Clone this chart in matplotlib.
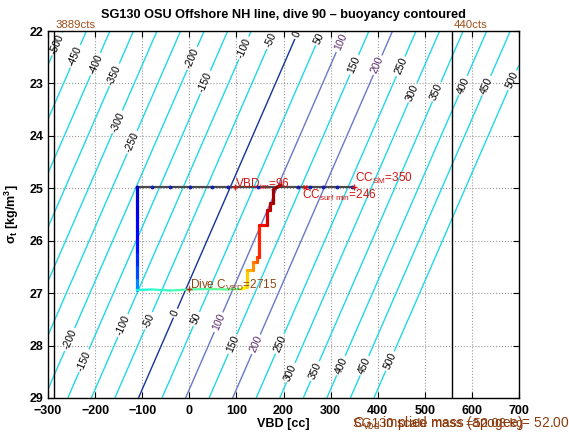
import numpy as np
import matplotlib
matplotlib.use('Agg')
import matplotlib.pyplot as plt
from matplotlib.collections import LineCollection

plt.rcParams['font.family'] = ['Liberation Sans', 'DejaVu Sans']
plt.rcParams['mathtext.fontset'] = 'custom'
plt.rcParams['mathtext.rm'] = 'Liberation Sans'
plt.rcParams['mathtext.it'] = 'Liberation Sans:italic'
plt.rcParams['mathtext.bf'] = 'Liberation Sans:bold'

# ---------------- data ----------------
title = 'SG130 OSU Offshore NH line, dive 90 \u2013 buoyancy contoured'
vbd_lim = [-300, 700]
sigma_lim = [22, 29]
x_ticks = [-300, -200, -100, 0, 100, 200, 300, 400, 500, 600, 700]
y_ticks = [22, 23, 24, 25, 26, 27, 28, 29]
contour_levels = list(range(-500, 501, 50))
highlight_levels = {0: '#15339c', 100: '#6a78c8', 200: '#6a78c8'}

# buoyancy field parameters (linear in VBD and sigma_t)
buoy_per_cc = 1.0
buoy_per_sigma = 48.5
zero_buoy_vbd_at_29 = -108.0

c_vbd = 2715
vbd_cnv = -0.245
vbd_limit_counts = [3889, 440]
vbd_im = 96
cc_sm = 350
cc_surf_min = 246
scale_mass = 52.08
implied_mass = 52.003

# surface segment
surface_sigma = 24.98
surface_vbd = [-112, -80, -41, 2, 48, 82, 146, 231, 256, 284, 314, 345]

# descent (colour value = fraction of dive time, jet colormap)
descent_vbd = [-112, -112, -112, -112, -112, -112, -112, -112, -112]
descent_sigma = [24.98, 25.25, 25.5, 25.75, 26.0, 26.25, 26.5, 26.75, 26.94]
descent_t = [0.05, 0.08, 0.10, 0.12, 0.13, 0.15, 0.18, 0.22, 0.30]

# apogee
apogee_vbd = [-112, -80, -40, 0, 40, 80, 111]
apogee_sigma = [26.94, 26.93, 26.95, 26.93, 26.92, 26.93, 26.92]
apogee_t = [0.37, 0.40, 0.42, 0.44, 0.46, 0.47, 0.48]

# climb
climb_vbd = [111, 122, 122, 136, 136, 143, 143, 149, 149, 164, 164, 171, 171, 178, 178, 186, 195]
climb_sigma = [26.92, 26.89, 26.56, 26.56, 26.40, 26.40, 26.31, 26.31, 25.70, 25.70,
               25.42, 25.42, 25.28, 25.28, 25.03, 24.98, 24.94]
climb_t = [0.64, 0.67, 0.71, 0.74, 0.77, 0.80, 0.83, 0.86, 0.88, 0.91,
           0.93, 0.94, 0.95, 0.96, 0.97, 0.98, 0.99]

# contour label positions (vbd, sigma)
label_pos = [(-285, 22.23), (-243, 22.48), (-200, 22.63), (-158, 22.84), (-151, 23.74),
             (-122, 24.12), (6, 22.52), (33, 22.97), (114, 22.32), (171, 22.17),
             (232, 22.08), (273, 22.13), (320, 22.21), (352, 22.65), (399, 22.65),
             (443, 22.65), (475, 23.18), (526, 23.16), (579, 23.03), (628, 23.03),
             (686, 22.94),
             (-260, 27.86), (-226, 28.28), (-143, 27.61), (-88, 27.52), (-35, 27.36),
             (12, 27.48), (61, 27.55), (86, 27.95), (135, 27.95), (188, 27.95),
             (212, 28.5), (263, 28.47), (320, 28.37), (369, 28.37), (422, 28.28)]

# ---------------- plot ----------------
fig = plt.figure(figsize=(5.69, 4.42), dpi=100)
ax = fig.add_axes([48/569, 44/442, 471/569, 367/442])
ax.set_xlim(vbd_lim)
ax.set_ylim(sigma_lim[1], sigma_lim[0])

vv = np.linspace(vbd_lim[0], vbd_lim[1], 401)
ss = np.linspace(sigma_lim[0], sigma_lim[1], 281)
V, S = np.meshgrid(vv, ss)
B = buoy_per_cc * (V - zero_buoy_vbd_at_29) + buoy_per_sigma * (S - 29.0)

cols = [highlight_levels.get(l, '#22d8e4') for l in contour_levels]
cs = ax.contour(V, S, B, levels=contour_levels, colors=cols, linewidths=1.0)
ax.clabel(cs, manual=label_pos, inline=True, fontsize=7.5, fmt='%d', inline_spacing=2)

# orientation of the contour lines on screen
p1 = ax.transData.transform((0.0, 29.0))
p2 = ax.transData.transform((7.0 * buoy_per_sigma / buoy_per_cc, 22.0))
ang = np.degrees(np.arctan2(p2[1] - p1[1], p2[0] - p1[0]))
for t in cs.labelTexts:
    t.set_rotation(ang)
    t.set_color('#5a2a6a' if t.get_text() in ('100', '200') else 'black')

ax.grid(True, color='0.6', linestyle=':', linewidth=0.8)
ax.set_axisbelow(True)

# VBD count limits
for cnt in vbd_limit_counts:
    xv = (cnt - c_vbd) * vbd_cnv
    ax.axvline(xv, color='black', lw=1.0)
    ax.text(xv + 3, 21.88, f'{cnt}cts', color='#a0501a', fontsize=8.2, ha='left',
            va='center', clip_on=False)

# surface line
ax.plot([surface_vbd[0], surface_vbd[-1]], [surface_sigma, surface_sigma], color='#4a4a4a', lw=1.6)
ax.plot(surface_vbd, [surface_sigma] * len(surface_vbd), linestyle='none', marker='.',
        color='#1020b0', markersize=3.5)

cmap = plt.get_cmap('jet')

def colored(xs, ys, ts, lw):
    pts = np.column_stack([xs, ys])
    segs = np.stack([pts[:-1], pts[1:]], axis=1)
    tv = 0.5 * (np.asarray(ts[:-1]) + np.asarray(ts[1:]))
    lc = LineCollection(segs, colors=cmap(tv), linewidths=lw, capstyle='round', joinstyle='round')
    ax.add_collection(lc)

colored(descent_vbd, descent_sigma, descent_t, 2.3)
colored(apogee_vbd, apogee_sigma, apogee_t, 1.6)
colored(climb_vbd, climb_sigma, climb_t, 2.3)

red = '#d41414'
ax.plot([vbd_im], [surface_sigma], marker='+', color=red, markersize=5, mew=1)
ax.text(vbd_im + 2, 24.93, 'VBD$_{\\mathrm{im}}$=%d' % vbd_im, color=red, fontsize=8.5,
        ha='left', va='center')
ax.plot([cc_surf_min], [surface_sigma], marker='x', color=red, markersize=3.5, mew=1)
ax.text(cc_surf_min - 6, 25.13, 'CC$_{\\mathrm{surf\\ min}}$=%d' % cc_surf_min, color=red,
        fontsize=8.5, ha='left', va='center')
ax.plot([cc_sm], [surface_sigma], marker='+', color=red, markersize=5, mew=1)
ax.text(cc_sm + 2, 24.82, 'CC$_{\\mathrm{SM}}$=%d' % cc_sm, color=red, fontsize=8.5,
        ha='left', va='center')

brown = '#8c4614'
ax.plot([0], [26.93], marker='+', color='#b02a10', markersize=5, mew=1)
ax.text(1, 26.85, 'Dive C$_{\\mathrm{VBD}}$=%d' % c_vbd, color=brown, fontsize=8.5,
        ha='left', va='center')

ax.set_xticks(x_ticks)
ax.set_yticks(y_ticks)
ax.tick_params(direction='in', length=4, top=True, right=True, labelsize=9)
ax.tick_params(axis='x', pad=5)
ax.tick_params(axis='y', pad=3)
for lab in ax.get_xticklabels() + ax.get_yticklabels():
    lab.set_fontweight('bold')
for sp in ax.spines.values():
    sp.set_linewidth(1.0)

ax.set_xlabel('VBD [cc]', fontsize=9, fontweight='bold', labelpad=1)
ax.set_ylabel('$\\mathbf{\\sigma_t}$ [kg/m$^{\\mathbf{3}}$]', fontsize=9, fontweight='bold', labelpad=6)
fig.text(0.498, 0.967, title, ha='center', va='center', fontsize=9.2, fontweight='bold')

fig.text(353/569, 1 - 426.5/442, 'SG130 scale mass =%.2f kg' % scale_mass, color='#8c3a0c',
         fontsize=9.4, ha='left', va='baseline')
fig.text(353/569, 1 - 426.5/442, 'C$_{\\mathrm{vbd}}$ implied mass (apogee)= %.3f kg' % implied_mass,
         color='#8c3a0c', fontsize=9.9, ha='left', va='baseline')

fig.savefig('out.png', dpi=100)
